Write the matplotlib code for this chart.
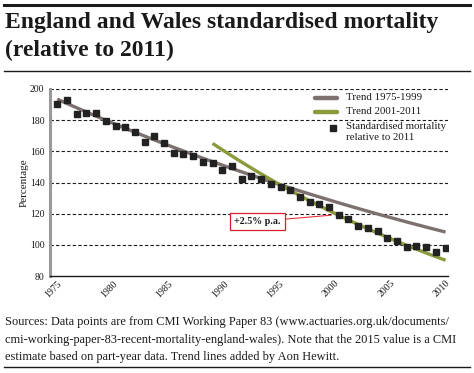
import numpy as np
import matplotlib
matplotlib.use("Agg")
import matplotlib.pyplot as plt
from matplotlib.lines import Line2D

years = list(range(1975, 2016))
mortality = [190.3, 192.9, 184.1, 184.5, 184.5, 179.5, 176.1, 175.4, 172.2, 166.2,
             169.6, 165.5, 159.1, 158.2, 157.3, 153.0, 152.8, 148.1, 150.9, 142.5,
             144.2, 142.2, 139.2, 136.9, 135.3, 130.4, 127.2, 126.3, 124.4, 119.2,
             116.8, 112.3, 111.0, 108.8, 104.5, 102.4, 98.9, 99.1, 98.5, 95.3, 98.1]

# trend lines: (start year, start value, end year, end value), exponential
trend_7599 = (1975, 193.5, 2015, 108.2)
trend_0111 = (1991, 165.1, 2015, 90.1)

tick_labels = ["1975", "1980", "1985", "1990", "1995", "2000", "2005", "2010"]
y_ticks = [80, 100, 120, 140, 160, 180, 200]

SERIF = ["Liberation Serif", "DejaVu Serif"]
plt.rcParams["font.family"] = SERIF

GRAY = "#7d7170"
GREEN = "#8c9a3c"
DARK = "#1a1a1a"

fig = plt.figure(figsize=(4.74, 3.73), dpi=100)
W, H = 474, 373

def fx(px):
    return px / W

def fy(py):
    return 1 - py / H

# rules
fig.add_artist(Line2D([fx(4), fx(470)], [fy(4.5), fy(4.5)], color=DARK, lw=2.2))
fig.add_artist(Line2D([fx(4), fx(470)], [fy(71), fy(71)], color=DARK, lw=1.0))
fig.add_artist(Line2D([fx(4), fx(470)], [fy(367), fy(367)], color=DARK, lw=1.0))

fig.text(fx(5), fy(28), "England and Wales standardised mortality", fontsize=17,
         fontweight="bold", color=DARK, va="baseline", ha="left")
fig.text(fx(5), fy(56), "(relative to 2011)", fontsize=17,
         fontweight="bold", color=DARK, va="baseline", ha="left")

src = ["Sources: Data points are from CMI Working Paper 83 (www.actuaries.org.uk/documents/",
       "cmi-working-paper-83-recent-mortality-england-wales). Note that the 2015 value is a CMI",
       "estimate based on part-year data. Trend lines added by Aon Hewitt."]
for i, line in enumerate(src):
    fig.text(fx(5), fy(325 + i * 17.5), line, fontsize=8.9, color=DARK,
             va="baseline", ha="left")

ax = fig.add_axes([fx(50), fy(276), fx(448) - fx(50), fy(89) - fy(276)])
ax.set_xlim(1974.25, 2015.25)
ax.set_ylim(80, 200)

for s in ["top", "right"]:
    ax.spines[s].set_visible(False)
ax.spines["left"].set_color("#999999")
ax.spines["left"].set_linewidth(2.2)
ax.spines["bottom"].set_color(DARK)
ax.spines["bottom"].set_linewidth(1.0)

ax.set_yticks(y_ticks)
ax.set_yticklabels([str(v) for v in y_ticks], fontsize=7, color=DARK)
ax.tick_params(axis="y", length=0, pad=4)
for v in y_ticks[1:]:
    ax.axhline(v, color=DARK, lw=0.8, ls=(0, (3, 2)), zorder=1)

xt = np.linspace(years[0], years[-1], len(tick_labels))
ax.set_xticks(xt)
ax.set_xticklabels(tick_labels, fontsize=7, rotation=45, ha="right",
                   rotation_mode="anchor", color=DARK)
ax.tick_params(axis="x", length=0, pad=2)

def trend(t):
    y0, v0, y1, v1 = t
    xs = np.linspace(y0, y1, 100)
    vs = v0 * (v1 / v0) ** ((xs - y0) / (y1 - y0))
    return xs, vs

xs, vs = trend(trend_7599)
ax.plot(xs, vs, color=GRAY, lw=2.4, zorder=3, solid_capstyle="butt")
xs, vs = trend(trend_0111)
ax.plot(xs, vs, color=GREEN, lw=2.4, zorder=3, solid_capstyle="butt")
ax.plot(years, mortality, ls="none", marker="s", ms=4.2, color="#222222", zorder=4)

ax.set_ylabel("Percentage", fontsize=8, color=DARK, labelpad=1)

# annotation
ax.annotate("+2.5% p.a.", xy=(2003.2, 119.0), xytext=(1995.6, 115.0),
            fontsize=7.2, fontweight="bold", color=DARK, ha="center", va="center",
            bbox=dict(boxstyle="square,pad=0.42", fc="white", ec="#d9202a", lw=0.9),
            arrowprops=dict(arrowstyle="-", color="#e8303a", lw=0.8, shrinkA=0, shrinkB=0),
            zorder=5)

# legend (drawn in figure pixel positions)
fig.add_artist(Line2D([fx(315), fx(337)], [fy(97.5), fy(97.5)], color=GRAY, lw=3.2,
                      solid_capstyle="round"))
fig.add_artist(Line2D([fx(315), fx(337)], [fy(112), fy(112)], color=GREEN, lw=3.2,
                      solid_capstyle="round"))
fig.add_artist(Line2D([fx(333)], [fy(128)], ls="none", marker="s", ms=4.2, color="#222222"))
leg_kw = dict(fontsize=7.8, color=DARK, ha="left", va="center")
fig.text(fx(346), fy(97), "Trend 1975-1999", **leg_kw)
fig.text(fx(346), fy(111.5), "Trend 2001-2011", **leg_kw)
fig.text(fx(346), fy(126.5), "Standardised mortality", **leg_kw)
fig.text(fx(346), fy(137.5), "relative to 2011", **leg_kw)

fig.savefig("out.png", dpi=100, facecolor="white")
